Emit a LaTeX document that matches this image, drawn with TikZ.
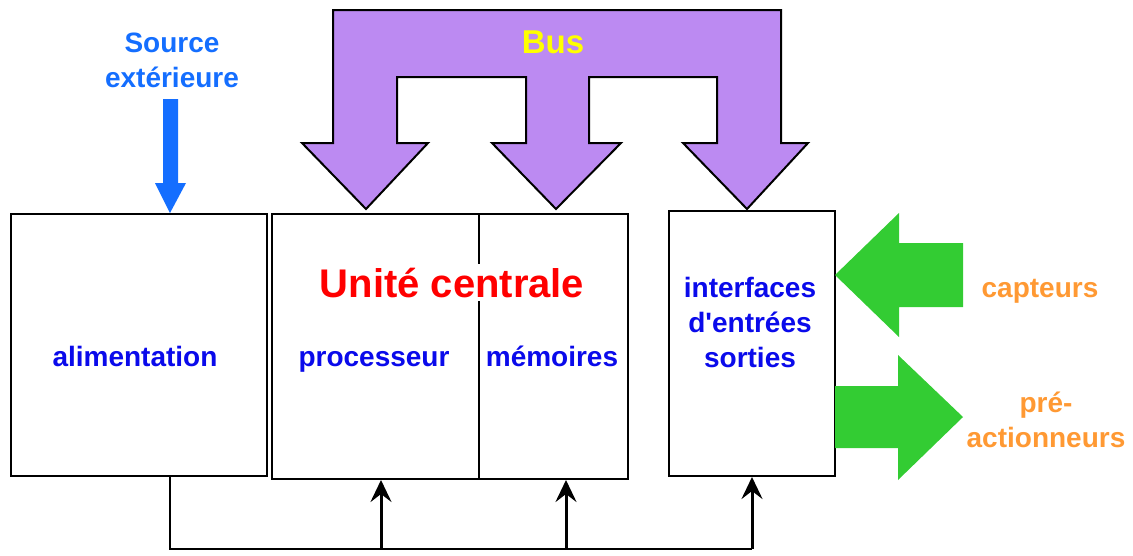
\documentclass[tikz,border=0pt]{standalone}
\usepackage{fontspec}
\setmainfont{Liberation Sans}
% plain family without TeX ligature mapping, so ' stays a straight quote
\newfontfamily\labelfont{Liberation Sans}
\usetikzlibrary{arrows.meta}
\definecolor{busviolet}{RGB}{188,138,242}
\definecolor{busyellow}{RGB}{255,255,0}
\definecolor{srcblue}{RGB}{20,110,255}
\definecolor{lblblue}{RGB}{10,10,235}
\definecolor{ucred}{RGB}{255,0,0}
\definecolor{iogreen}{RGB}{51,204,51}
\definecolor{ioorange}{RGB}{255,153,51}
\begin{document}
\begin{tikzpicture}[x=1pt,y=-1pt,
  box/.style={draw=black,line width=2pt,fill=white,inner sep=0pt,anchor=north west},
  lbl/.style={font=\labelfont\fontsize{28}{35}\selectfont\bfseries,text=lblblue,align=center,inner sep=0pt,anchor=base},
  srclbl/.style={lbl,text=srcblue},
  iolbl/.style={lbl,text=ioorange},
  wire/.style={draw=black,line width=3pt},
  uparrow/.style={wire,-{Stealth[length=22pt,width=21pt,inset=8pt]}}]
\useasboundingbox (0,0) rectangle (1133,555);

% blocks
\node[box,minimum width=256pt,minimum height=262pt] (alim) at (10,213) {};
\node[box,minimum width=356pt,minimum height=265pt] (uc) at (271,213) {};
\node[box,minimum width=166pt,minimum height=265pt] (io) at (668,210) {};

% divider between processor and memories
\coordinate (divtop) at (479,213);
\coordinate (divbot) at (479,478);
\draw[line width=2pt] (divtop) -- (divbot);

% labels inside the blocks
\node[lbl] (alimtxt) at (135,366) {alimentation};
\node[lbl,fill=white,inner sep=4pt,text=ucred,font=\labelfont\fontsize{40}{44}\selectfont\bfseries] (uctxt) at (452,297) {Unité centrale};
\node[lbl] (proctxt) at (374,366) {processeur};
\node[lbl] (memtxt) at (552,366) {mémoires};
\node[lbl] (iotxt) at (750,367) {interfaces\\d'entrées\\sorties};

% bus
\draw[fill=busviolet,line width=2pt,line join=miter]
  (333,10) -- (781,10) -- (781,143) -- (808,143) -- (747,209) -- (683,143)
  -- (717,143) -- (717,77) -- (589,77) -- (589,143) -- (621,143) -- (556,209)
  -- (492,143) -- (526,143) -- (526,77) -- (397,77) -- (397,143) -- (428,143)
  -- (366,209) -- (302,143) -- (333,143) -- cycle;
\node[lbl,text=busyellow,font=\labelfont\fontsize{33}{36}\selectfont\bfseries] (bustxt) at (553,53) {Bus};

% external supply
\node[srclbl] (srctxt) at (172,87) {Source\\extérieure};
\fill[srcblue] (163,99) -- (178,99) -- (178,183) -- (186,183) -- (170,213)
  -- (155,183) -- (163,183) -- cycle;

% sensors and pre-actuators
\fill[iogreen] (835,275) -- (899,213) -- (899,243) -- (963,243) -- (963,307)
  -- (899,307) -- (899,337) -- cycle;
\node[iolbl] (captxt) at (1040,297) {capteurs};
\fill[iogreen] (835,386) -- (898,386) -- (898,355) -- (963,417) -- (898,480)
  -- (898,448) -- (835,448) -- cycle;
\node[iolbl] (acttxt) at (1046,447) {pré-\\actionneurs};

% power distribution
\coordinate (pwrout) at (170,475);
\coordinate (pwrcorner) at (170,549);
\coordinate (pwrend) at (752,549);
\coordinate (tap1) at (381,549);
\coordinate (tap2) at (566,549);
\draw[wire,line width=2.5pt,line join=miter] (pwrout) -- (pwrcorner) -- (pwrend);
\draw[uparrow] (tap1) -- (tap1 |- uc.south);
\draw[uparrow] (tap2) -- (tap2 |- uc.south);
\draw[uparrow] (pwrend) -- (pwrend |- io.south);
\end{tikzpicture}
\end{document}
